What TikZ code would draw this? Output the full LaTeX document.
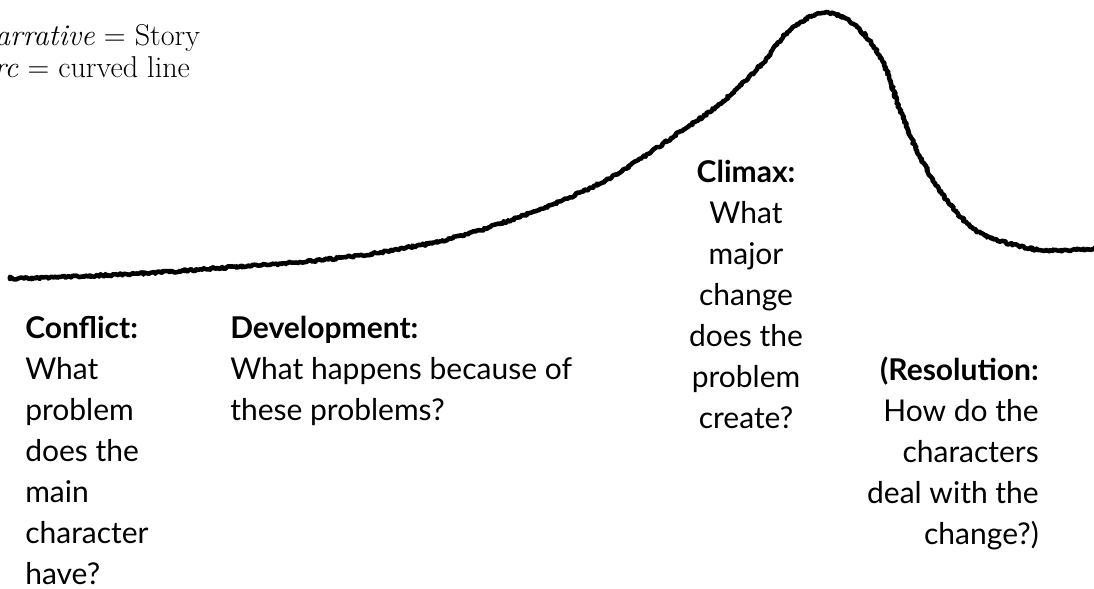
\documentclass[tikz,border=0pt]{standalone}
\usepackage{fontspec}
\newfontfamily\arcfont{Lato}
\usetikzlibrary{decorations.pathmorphing}

\begin{document}
\pgfmathsetseed{11}
\begin{tikzpicture}[
  x=0.75pt, y=-0.75pt,
  part/.style={inner sep=0pt, font=\arcfont\fontsize{22.5}{30.75}\selectfont},
  arc/.style={line width=3.4pt, line join=round, line cap=round, decorate,
    decoration={random steps, segment length=1.1pt, amplitude=0.9pt}}]
\clip (0,0) rectangle (1094,588);
% ---- definitions, top left (base = last line)
\node[inner sep=0pt, anchor=base west, align=left, font=\fontsize{22.6}{24}\selectfont] (defs) at (-27,78)
  {\textit{Narrative} = Story\\ \textit{Arc} = curved line};
% ---- the arc
\draw[arc] plot[smooth, tension=0.55] coordinates {(10,279) (60,277) (150,273) (233,267) (300,262) (376,253)
  (453,238) (530,213) (606,180) (683,130) (721,103) (759,67) (790,30) (824,13) (855,25) (882,60)
  (900,110) (920,157) (947,200) (980,233) (1040,250) (1100,248)};
% ---- parts of the story
\node[part, anchor=base west, align=left] (conflict) at (25,584)
  {\textbf{Conflict:}\\What\\problem\\does the\\main\\character\\have?};
\node[part, anchor=base west, align=left] (devel) at (230,420)
  {\textbf{Development:}\\What happens because of\\these problems?};
\node[part, anchor=base, align=center] (climax) at (746,428)
  {\textbf{Climax:}\\What\\major\\change\\does the\\problem\\create?};
\node[part, anchor=base east, align=right] (resol) at (1039,544)
  {\textbf{(Resolution:}\\How do the\\characters\\deal with the\\change?)};
\end{tikzpicture}
\end{document}
